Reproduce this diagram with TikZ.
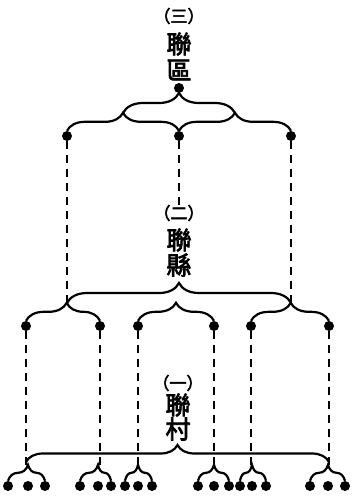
\documentclass[tikz,border=0pt]{standalone}
\usepackage{fontspec}
\newfontfamily\cjk{Noto Sans CJK TC}[AutoFakeBold=3]
\usetikzlibrary{decorations.pathreplacing}

\tikzset{
	dot/.style={circle,fill,inner sep=0pt,minimum size=10pt},
	brc/.style={decorate,decoration={brace,amplitude=#1},line width=2.2pt},
	link/.style={line width=2.2pt,dash pattern=on 8pt off 6pt},
	word/.style={font=\cjk\bfseries\fontsize{25}{25}\selectfont,inner sep=0pt},
	num/.style={font=\cjk\bfseries\fontsize{17}{17}\selectfont,inner sep=0pt}
}

\begin{document}
\begin{tikzpicture}[x=1pt,y=-1pt]
	\useasboundingbox (0,0) rectangle (353,499);
	
	% (三) 聯區
	\node[num] (n3) at (179,16) {（三）};
	\node[word] (w3a) at (179,44) {聯};
	\node[word] (w3b) at (179,70) {區};
	\node[dot] (d3) at (179,88) {};
	
	\node[dot] (a1) at (67,136) {};
	\node[dot] (a2) at (179,136) {};
	\node[dot] (a3) at (291,136) {};
	
	\coordinate (t1) at (123,113);
	\coordinate (t2) at (235,113);
	\draw[brc=20] (t1) -- (t2);
	\draw[brc=18] (a1.north) -- (a2.north);
	\draw[brc=18] (a2.north) -- (a3.north);
	
	% (二) 聯縣
	\node[num] (n2) at (179,213) {（二）};
	\node[word] (w2a) at (179,240) {聯};
	\node[word] (w2b) at (179,265) {縣};
	
	\coordinate (m1) at (67,303);
	\coordinate (m3) at (291,303);
	\draw[link] (a1) -- (m1);
	\draw[link] (a3) -- (m3);
	\draw[link] (a2) -- (n2.north);
	\draw[brc=20] (m1) -- (m3);
	
	\node[dot] (b1) at (26,326) {};
	\node[dot] (b2) at (100,326) {};
	\node[dot] (b3) at (138,326) {};
	\node[dot] (b4) at (214,326) {};
	\node[dot] (b5) at (251,326) {};
	\node[dot] (b6) at (329,326) {};
	
	\draw[brc=18,decoration={aspect=0.55}] (b1.north) -- (b2.north);
	\draw[brc=18,decoration={aspect=0.5}] (b3.north) -- (b4.north);
	\draw[brc=18,decoration={aspect=0.51}] (b5.north) -- (b6.north);
	
	% (一) 聯村
	\node[num] (n1) at (178,383) {（一）};
	\node[word] (w1a) at (178,405) {聯};
	\node[word] (w1b) at (178,429) {村};
	
	\coordinate (v1) at (26,462);
	\coordinate (v6) at (329,462);
	\draw[brc=17,decoration={aspect=0.5}] (v1) -- (v6);
	
	\foreach \i/\l/\m/\r in {1/8/28/45, 2/80/98/111, 3/125/138/152, 4/198/214/229, 5/240/252/266, 6/310/328/345} {
		\node[dot] (c\i l) at (\l,486) {};
		\node[dot] (c\i m) at (\m,486) {};
		\node[dot] (c\i r) at (\r,486) {};
		\coordinate (k\i) at (b\i |- 0,466);
		\draw[link] (b\i) -- (k\i);
		\pgfmathsetmacro\asp{(\m-\l)/(\r-\l)}
		\draw[brc=16,decoration={aspect=\asp}] (c\i l.north) -- (c\i r.north);
	}
\end{tikzpicture}
\end{document}
